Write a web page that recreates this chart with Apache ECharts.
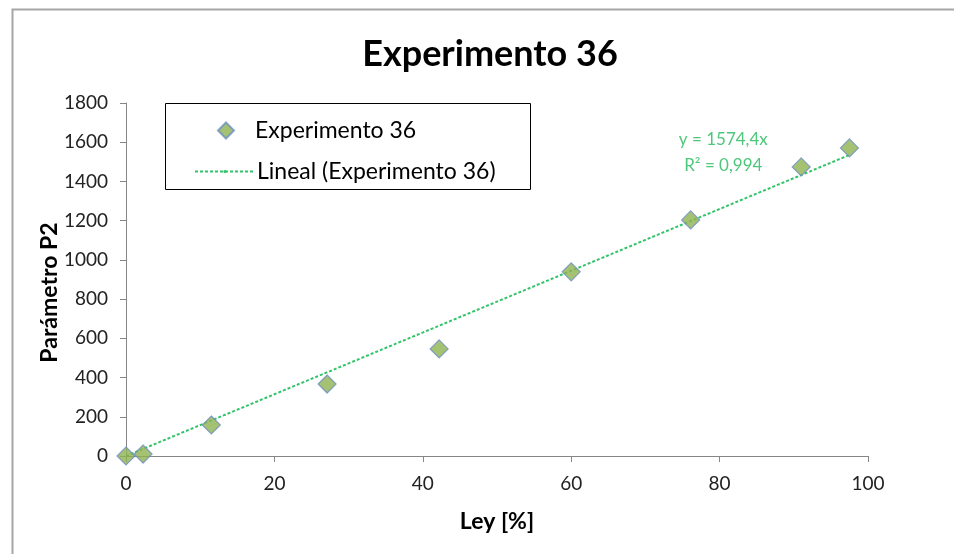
<!DOCTYPE html>
<html>
<head>
<meta charset="utf-8">
<script src="https://cdn.jsdelivr.net/npm/echarts@6/dist/echarts.min.js"></script>
<style>
html,body{margin:0;padding:0;background:#fff;}
#chart{width:954px;height:554px;}
</style>
</head>
<body>
<div id="chart"></div>
<script>
var titleText = 'Experimento 36';
var seriesName = 'Experimento 36';
var trendName = 'Lineal (Experimento 36)';
var xAxisName = 'Ley [%]';
var yAxisName = 'Parámetro P2';
var ley = [0, 2.3, 11.5, 27.1, 42.2, 60.0, 76.1, 91.0, 97.5];
var p2 = [0, 10, 158, 367, 546, 939, 1204, 1474, 1571];
var trendX = [0, 97.5];
var trendY = [0, 1535];
var trendLabel = ['y = 1574,4x', 'R\u00b2 = 0,994'];

var FONT = 'Lato, "Open Sans", sans-serif';
var chart = echarts.init(document.getElementById('chart'));
var option = {
  backgroundColor: '#ffffff',
  animation: false,
  textStyle: {fontFamily: FONT},
  title: {
    text: titleText, left: 485, top: 31, textAlign: 'center',
    textStyle: {fontFamily: FONT, fontSize: 36, fontWeight: 'bold', color: '#000'}
  },
  grid: {left: 126, right: 86, top: 103, bottom: 98},
  xAxis: {
    type: 'value', min: 0, max: 100, interval: 20,
    name: xAxisName, nameLocation: 'middle', nameGap: 54, nameMoveOverlap: false,
    nameTextStyle: {fontFamily: FONT, fontSize: 23, fontWeight: 'bold', color: '#000'},
    axisLine: {lineStyle: {color: '#868686', width: 1}},
    axisTick: {show: true, inside: false, length: 6, lineStyle: {color: '#868686'}},
    axisLabel: {fontSize: 19, color: '#222', margin: 18, fontFamily: FONT},
    splitLine: {show: false}
  },
  yAxis: {
    type: 'value', min: 0, max: 1800, interval: 200,
    name: yAxisName, nameLocation: 'middle', nameGap: 65, nameRotate: 90, nameMoveOverlap: false,
    nameTextStyle: {fontFamily: FONT, fontSize: 23, fontWeight: 'bold', color: '#000', padding: [0, 0, 0, -26]},
    axisLine: {show: true, lineStyle: {color: '#868686', width: 1}},
    axisTick: {show: true, inside: false, length: 6, lineStyle: {color: '#868686'}},
    axisLabel: {fontSize: 19, color: '#222', margin: 18, fontFamily: FONT,
      formatter: function (v) { return String(v); }},
    splitLine: {show: false}
  },
  legend: [
    {
      data: [seriesName], left: 212, top: 114, itemWidth: 16, itemHeight: 16, itemGap: 0,
      textStyle: {fontFamily: FONT, fontSize: 23, color: '#000', padding: [0, 0, 0, 16]}
    },
    {
      data: [trendName], left: 189, top: 155, itemWidth: 60, itemHeight: 4, itemGap: 0,
      textStyle: {fontFamily: FONT, fontSize: 23, color: '#000', padding: [0, 0, 0, -3]}
    }
  ],
  graphic: [
    {type: 'rect', shape: {x: 12.5, y: 9.5, width: 960, height: 560}, style: {fill: 'none', stroke: '#a6a6a6', lineWidth: 2}, silent: true, z: 100},
    {type: 'rect', shape: {x: 165.5, y: 103.5, width: 365, height: 86}, style: {fill: 'none', stroke: '#000', lineWidth: 1}, silent: true, z: 100}
  ],
  series: [
    {
      name: trendName, type: 'line', data: trendX.map(function (x, i) { return [x, trendY[i]]; }),
      symbol: 'none', smooth: false, z: 2,
      lineStyle: {color: '#33c46a', width: 2, type: [3, 2]},
      itemStyle: {color: '#33c46a'}
    },
    {
      name: seriesName, type: 'scatter', data: ley.map(function (x, i) { return [x, p2[i]]; }),
      symbol: 'diamond', symbolSize: 18, z: 3,
      itemStyle: {color: '#8fb350', borderColor: '#6e8fbf', borderWidth: 1.2}
    },
    {
      type: 'scatter', name: '_label', silent: true, symbolSize: 0, data: [[80.5, 1545]],
      label: {show: true, position: 'inside', formatter: trendLabel.join('\n'), lineHeight: 26,
        fontFamily: FONT, fontSize: 17, color: '#22b85a', align: 'center'}
    }
  ]
};
chart.setOption(option);
</script>
</body>
</html>
